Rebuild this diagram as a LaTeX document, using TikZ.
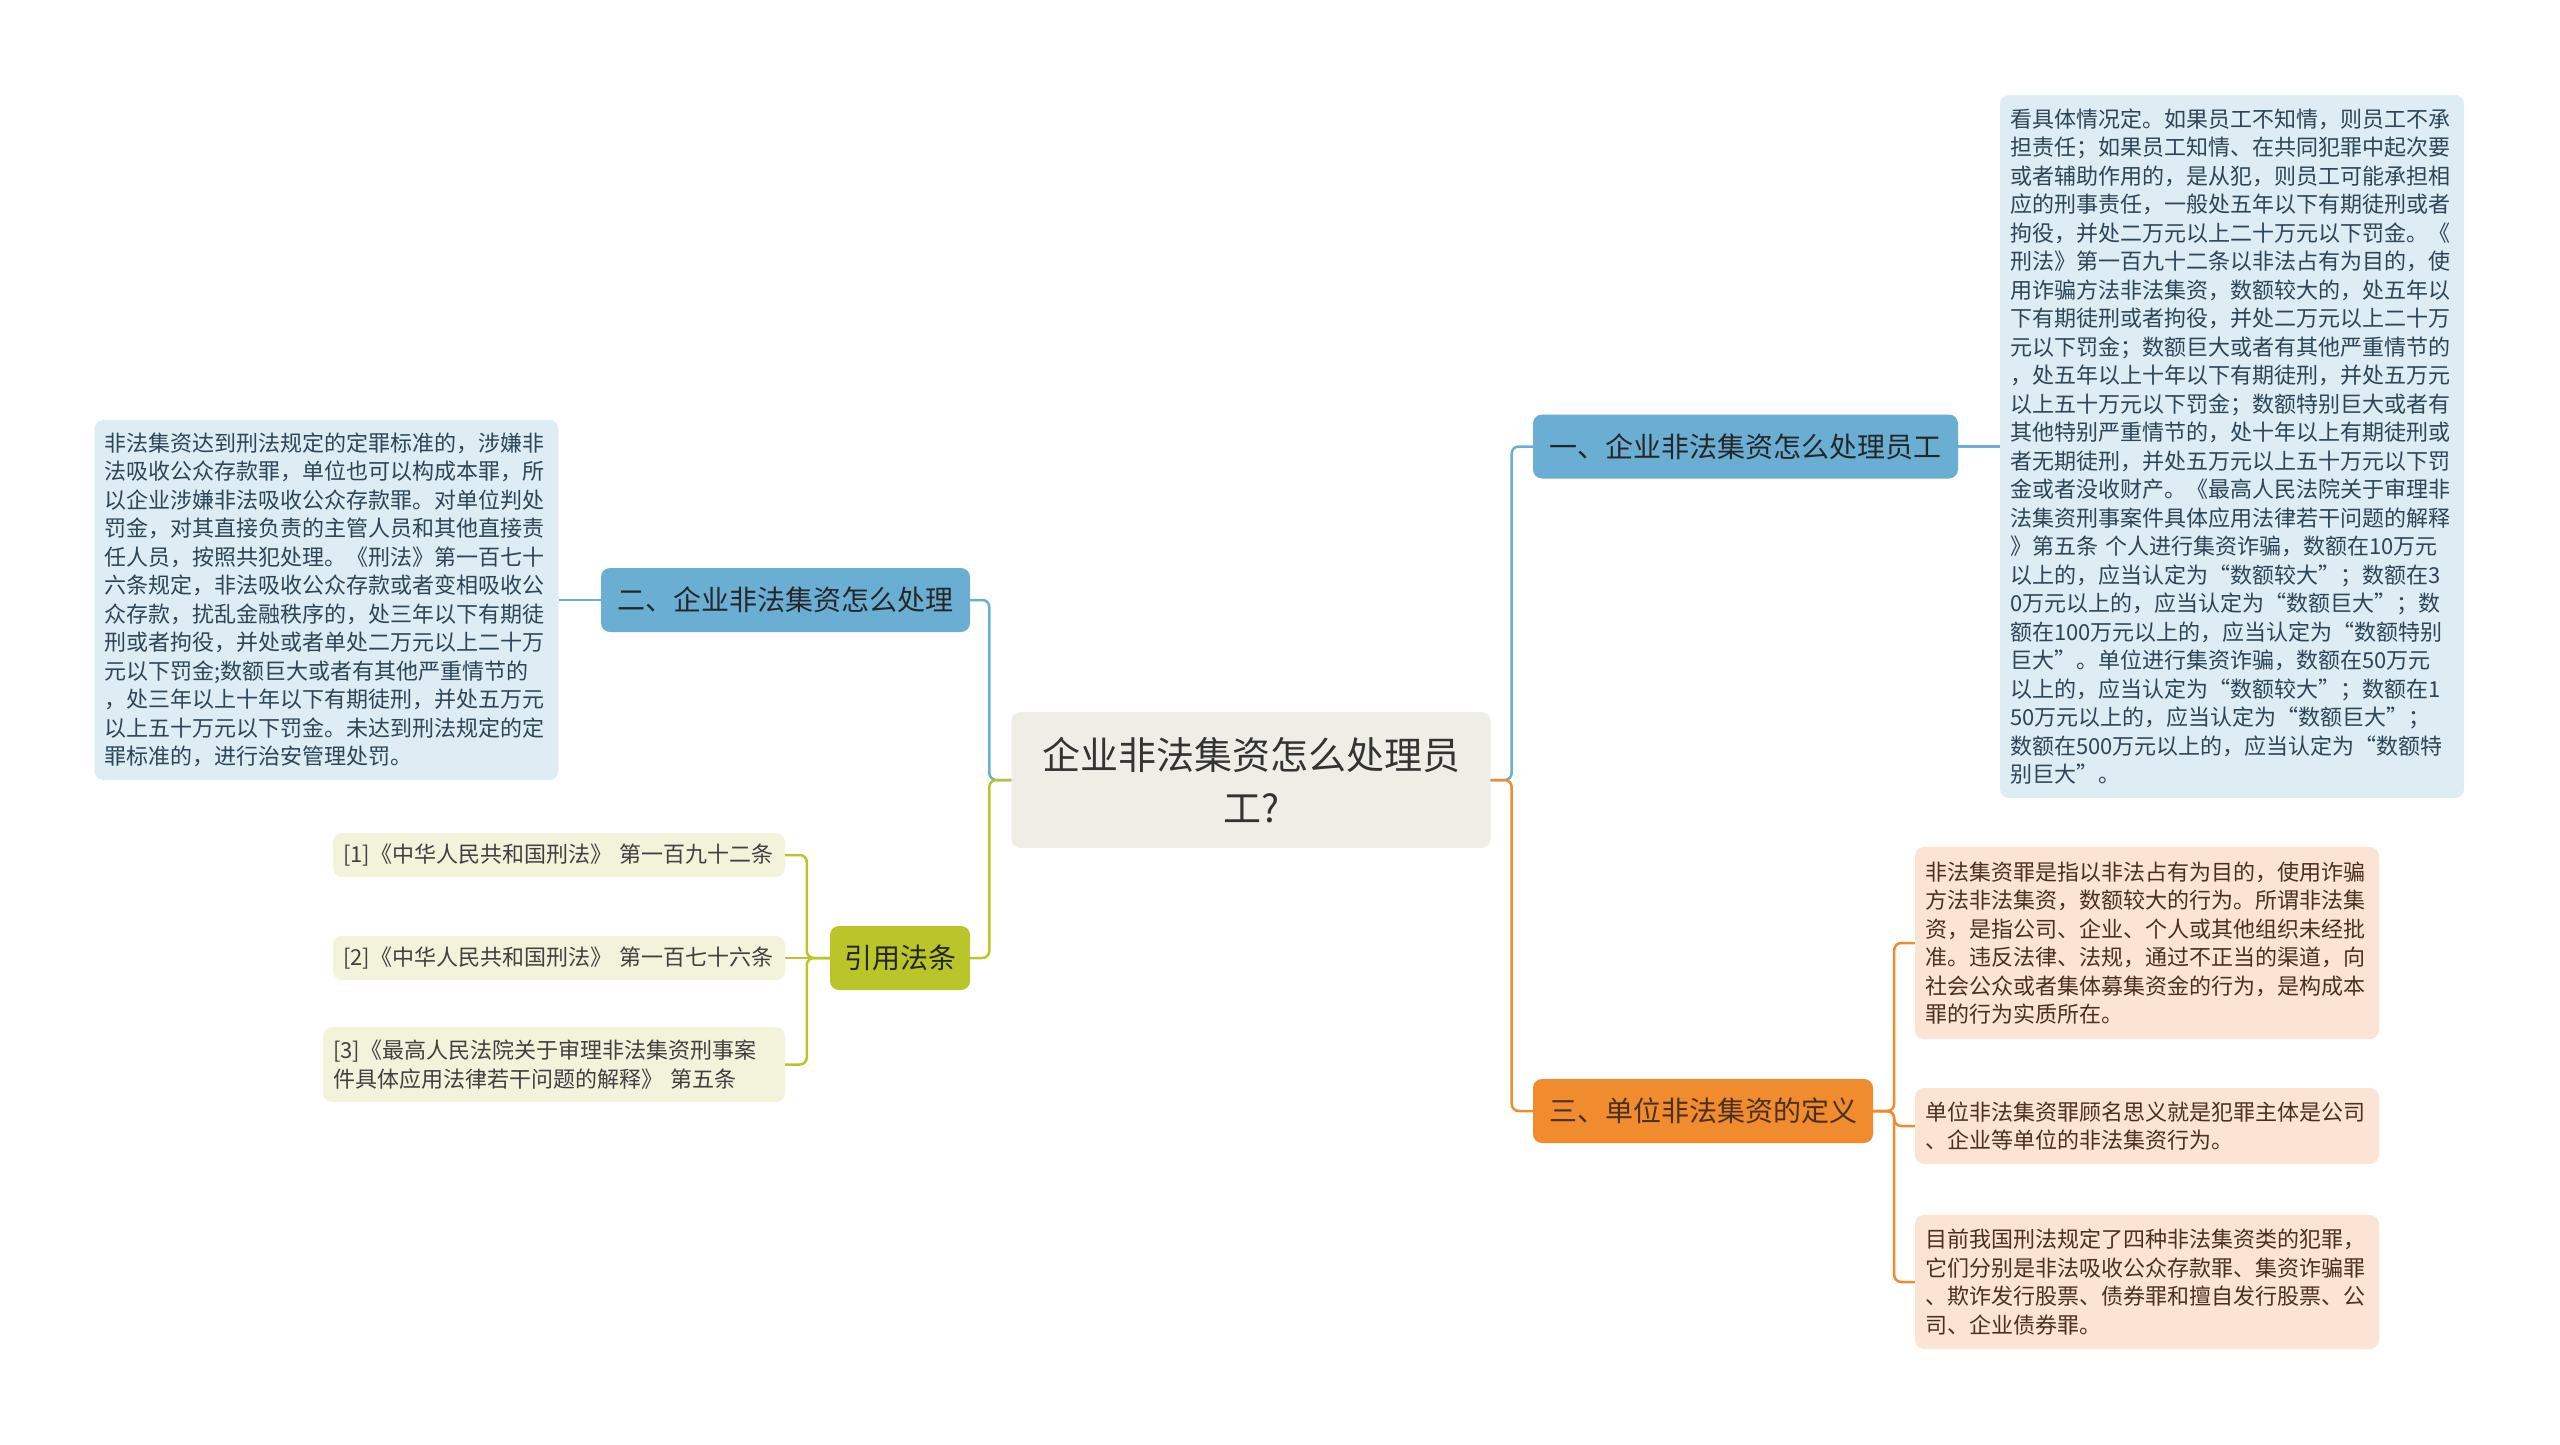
\documentclass[tikz,border=0pt]{standalone}
\usepackage{fontspec}
\setmainfont{Noto Sans CJK SC}
\definecolor{rootfill}{HTML}{EEEEE7}
\definecolor{bluemain}{HTML}{6AAED4}
\definecolor{bluelight}{HTML}{DEECF4}
\definecolor{bluetext}{HTML}{2C4658}
\definecolor{greenmain}{HTML}{BAC52A}
\definecolor{greenlight}{HTML}{F3F3DC}
\definecolor{orangemain}{HTML}{F08B2E}
\definecolor{orangelight}{HTML}{FCE4D4}
\definecolor{orangetext}{HTML}{4A3020}

\begin{document}
\begin{tikzpicture}
  [x = 1pt, y = -1pt,
   box/.style = {rounded corners = 9pt, inner xsep = 10pt, inner ysep = 0pt},
   rootbox/.style = {box, fill = rootfill, text = black!80, align = center,
     minimum width = 479pt, minimum height = 136pt,
     font = \fontsize{38}{53}\selectfont},
   topic/.style = {box, text = black!85, minimum height = 64pt,
     font = \fontsize{28}{34}\selectfont},
   leaf/.style = {box, align = left, font = \fontsize{22}{28.5}\selectfont},
   blueleaf/.style = {leaf, fill = bluelight, text = bluetext, text width = 444pt},
   greenleaf/.style = {leaf, fill = greenlight, text = black!75},
   orangeleaf/.style = {leaf, fill = orangelight, text = orangetext, text width = 444pt},
   link/.style = {line width = 2.5pt, rounded corners = 7pt}]
  \useasboundingbox (0,0) rectangle (2560,1445);

  \node[rootbox] (root) at (1251,780) {企业非法集资怎么处理员\\工?};

  \node[topic, fill = bluemain, minimum width = 425pt] (one) at (1745.5,446.5)
    {一、企业非法集资怎么处理员工};
  \node[topic, fill = bluemain, minimum width = 369pt] (two) at (785.5,600)
    {二、企业非法集资怎么处理};
  \node[topic, fill = greenmain, minimum width = 140pt] (law) at (900,958)
    {引用法条};
  \node[topic, fill = orangemain, text = orangetext, minimum width = 340pt] (three) at (1703,1111)
    {三、单位非法集资的定义};

  \node[blueleaf, minimum height = 703pt] (staff) at (2232,446.5)
    {看具体情况定。如果员工不知情，则员工不承\\
     担责任；如果员工知情、在共同犯罪中起次要\\
     或者辅助作用的，是从犯，则员工可能承担相\\
     应的刑事责任，一般处五年以下有期徒刑或者\\
     拘役，并处二万元以上二十万元以下罚金。《\\
     刑法》第一百九十二条以非法占有为目的，使\\
     用诈骗方法非法集资，数额较大的，处五年以\\
     下有期徒刑或者拘役，并处二万元以上二十万\\
     元以下罚金；数额巨大或者有其他严重情节的\\
     ，处五年以上十年以下有期徒刑，并处五万元\\
     以上五十万元以下罚金；数额特别巨大或者有\\
     其他特别严重情节的，处十年以上有期徒刑或\\
     者无期徒刑，并处五万元以上五十万元以下罚\\
     金或者没收财产。《最高人民法院关于审理非\\
     法集资刑事案件具体应用法律若干问题的解释\\
     》第五条 个人进行集资诈骗，数额在10万元\\
     以上的，应当认定为“数额较大”；数额在3\\
     0万元以上的，应当认定为“数额巨大”；数\\
     额在100万元以上的，应当认定为“数额特别\\
     巨大”。单位进行集资诈骗，数额在50万元\\
     以上的，应当认定为“数额较大”；数额在1\\
     50万元以上的，应当认定为“数额巨大”；\\
     数额在500万元以上的，应当认定为“数额特\\
     别巨大”。};

  \node[blueleaf, minimum height = 360pt] (firm) at (326.5,600)
    {非法集资达到刑法规定的定罪标准的，涉嫌非\\
     法吸收公众存款罪，单位也可以构成本罪，所\\
     以企业涉嫌非法吸收公众存款罪。对单位判处\\
     罚金，对其直接负责的主管人员和其他直接责\\
     任人员，按照共犯处理。《刑法》第一百七十\\
     六条规定，非法吸收公众存款或者变相吸收公\\
     众存款，扰乱金融秩序的，处三年以下有期徒\\
     刑或者拘役，并处或者单处二万元以上二十万\\
     元以下罚金;数额巨大或者有其他严重情节的\\
     ，处三年以上十年以下有期徒刑，并处五万元\\
     以上五十万元以下罚金。未达到刑法规定的定\\
     罪标准的，进行治安管理处罚。};

  \node[greenleaf, text width = 432pt, minimum height = 44pt] (ref1) at (559,855)
    {[1]《中华人民共和国刑法》 第一百九十二条};
  \node[greenleaf, text width = 432pt, minimum height = 44pt] (ref2) at (559,958)
    {[2]《中华人民共和国刑法》 第一百七十六条};
  \node[greenleaf, text width = 442pt, minimum height = 75pt] (ref3) at (554,1064.5)
    {[3]《最高人民法院关于审理非法集资刑事案\\
     件具体应用法律若干问题的解释》 第五条};

  \node[orangeleaf, minimum height = 192pt] (def1) at (2147,943)
    {非法集资罪是指以非法占有为目的，使用诈骗\\
     方法非法集资，数额较大的行为。所谓非法集\\
     资，是指公司、企业、个人或其他组织未经批\\
     准。违反法律、法规，通过不正当的渠道，向\\
     社会公众或者集体募集资金的行为，是构成本\\
     罪的行为实质所在。};
  \node[orangeleaf, minimum height = 76pt] (def2) at (2147,1126)
    {单位非法集资罪顾名思义就是犯罪主体是公司\\
     、企业等单位的非法集资行为。};
  \node[orangeleaf, minimum height = 134pt] (def3) at (2147,1282)
    {目前我国刑法规定了四种非法集资类的犯罪，\\
     它们分别是非法吸收公众存款罪、集资诈骗罪\\
     、欺诈发行股票、债券罪和擅自发行股票、公\\
     司、企业债券罪。};

  % branches from the root
  \draw[link, bluemain] (root.east) -- ++(21,0) |- (one.west);
  \draw[link, orangemain] (root.east) -- ++(21,0) |- (three.west);
  \draw[link, bluemain] (root.west) -- ++(-22,0) |- (two.east);
  \draw[link, greenmain] (root.west) -- ++(-22,0) |- (law.east);

  % leaves
  \draw[link, bluemain] (one.east) -- (staff.west);
  \draw[link, bluemain] (two.west) -- (firm.east);
  \foreach \r in {ref1,ref3}{
    \draw[link, greenmain] (law.west) -- ++(-23,0) |- (\r.east);
  }
  \draw[link, greenmain] (law.west) -- (ref2.east);
  \foreach \d in {def1,def2,def3}{
    \draw[link, orangemain] (three.east) -- ++(21,0) |- (\d.west);
  }
\end{tikzpicture}
\end{document}
